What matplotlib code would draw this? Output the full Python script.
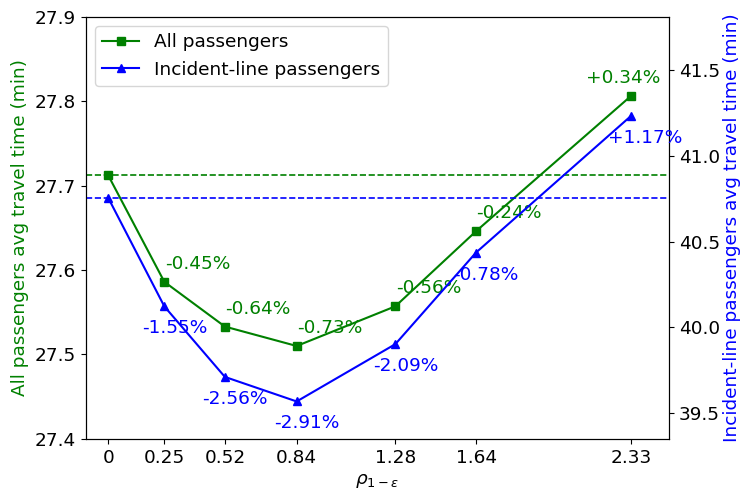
import matplotlib
matplotlib.use("Agg")
import matplotlib.pyplot as plt

# rho_{1-eps} levels
rho = [0, 0.25, 0.52, 0.84, 1.28, 1.64, 2.33]
rho_labels = ["0", "0.25", "0.52", "0.84", "1.28", "1.64", "2.33"]

# average travel time (min)
all_tt = [27.712, 27.586, 27.533, 27.510, 27.557, 27.646, 27.806]
line_tt = [40.754, 40.122, 39.711, 39.568, 39.902, 40.436, 41.231]

# relative change vs. baseline
all_pct = ["", "-0.45%", "-0.64%", "-0.73%", "-0.56%", "-0.24%", "+0.34%"]
line_pct = ["", "-1.55%", "-2.56%", "-2.91%", "-2.09%", "-0.78%", "+1.17%"]

all_base = 27.712
line_base = 40.754

FS = 13.3

fig = plt.figure(figsize=(7.4, 4.92), dpi=100)
ax = fig.add_axes([0.116, 0.108, 0.788, 0.858])
ax2 = ax.twinx()

l1, = ax.plot(rho, all_tt, color="green", marker="s", markersize=5.5, lw=1.5,
              label="All passengers")
l2, = ax2.plot(rho, line_tt, color="blue", marker="^", markersize=5.5, lw=1.5,
               label="Incident-line passengers")
ax.axhline(all_base, color="green", ls="--", lw=1.2)
ax2.axhline(line_base, color="blue", ls="--", lw=1.2)

# percentage labels
for i in range(1, len(rho)):
    dx = -8 if i == len(rho) - 1 else 33
    ax.annotate(all_pct[i], (rho[i], all_tt[i]), xytext=(dx, 18),
                textcoords="offset pixels", ha="center", va="center",
                color="green", fontsize=FS)
    dx2 = 14 if i == len(rho) - 1 else 10
    ax2.annotate(line_pct[i], (rho[i], line_tt[i]), xytext=(dx2, -22),
                 textcoords="offset pixels", ha="center", va="center",
                 color="blue", fontsize=FS)

ax.set_xlim(-0.1, 2.5)
ax.set_ylim(27.4, 27.9)
ax2.set_ylim(39.35, 41.81)
ax.set_xticks(rho)
ax.set_xticklabels(rho_labels)
ax.set_yticks([27.4, 27.5, 27.6, 27.7, 27.8, 27.9])
ax2.set_yticks([39.5, 40.0, 40.5, 41.0, 41.5])
ax.tick_params(labelsize=FS)
ax2.tick_params(labelsize=FS)

ax.set_xlabel(r"$\rho_{1-\varepsilon}$", fontsize=FS)
ax.set_ylabel("All passengers avg travel time (min)", color="green", fontsize=FS)
ax2.set_ylabel("Incident-line passengers avg travel time (min)", color="blue",
               fontsize=FS, labelpad=2)

ax.legend(handles=[l1, l2], loc="upper left", fontsize=FS)

fig.savefig("out.png", dpi=100)
